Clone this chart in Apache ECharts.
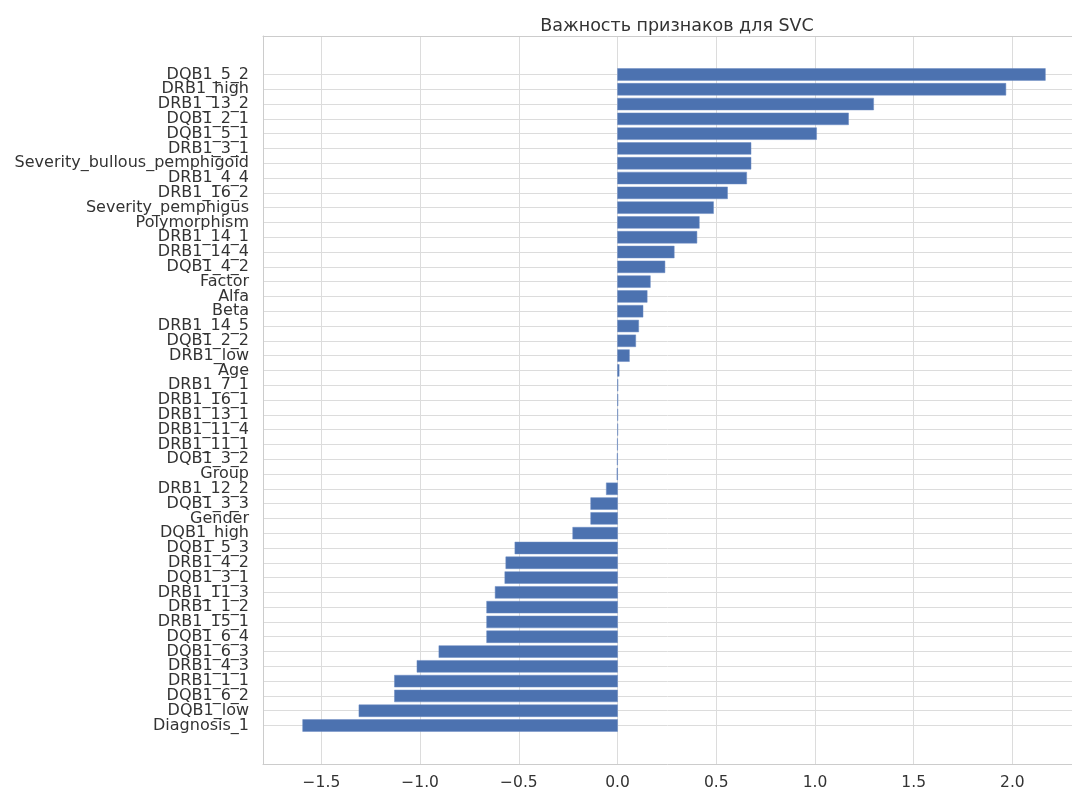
<!DOCTYPE html>
<html>
<head>
<meta charset="utf-8">
<title>Важность признаков для SVC</title>
<script src="https://cdn.jsdelivr.net/npm/echarts@6/dist/echarts.min.js"></script>
<style>
  html, body { margin: 0; padding: 0; background: #fff; }
  #chart { width: 1072px; height: 792px; }
</style>
</head>
<body>
<div id="chart"></div>
<script>
// признаки сверху вниз, как на картинке
const features = [
  'DQB1_5_2', 'DRB1_high', 'DRB1_13_2', 'DQB1_2_1', 'DQB1_5_1', 'DRB1_3_1',
  'Severity_bullous_pemphigoid', 'DRB1_4_4', 'DRB1_16_2', 'Severity_pemphigus',
  'Polymorphism', 'DRB1_14_1', 'DRB1_14_4', 'DQB1_4_2', 'Factor', 'Alfa', 'Beta',
  'DRB1_14_5', 'DQB1_2_2', 'DRB1_low', 'Age', 'DRB1_7_1', 'DRB1_16_1', 'DRB1_13_1',
  'DRB1_11_4', 'DRB1_11_1', 'DQB1_3_2', 'Group', 'DRB1_12_2', 'DQB1_3_3', 'Gender',
  'DQB1_high', 'DQB1_5_3', 'DRB1_4_2', 'DQB1_3_1', 'DRB1_11_3', 'DRB1_1_2',
  'DRB1_15_1', 'DQB1_6_4', 'DQB1_6_3', 'DRB1_4_3', 'DRB1_1_1', 'DQB1_6_2',
  'DQB1_low', 'Diagnosis_1'
]

// коэффициенты
const importance = [
  2.167, 1.967, 1.297, 1.170, 1.008, 0.676,
  0.676, 0.654, 0.557, 0.486,
  0.414, 0.402, 0.287, 0.240, 0.166, 0.150, 0.129,
  0.107, 0.092, 0.060, 0.008, 0.002, 0.002, 0.001,
  0.001, -0.001, -0.002, -0.003, -0.057, -0.136, -0.136,
  -0.227, -0.520, -0.566, -0.571, -0.620, -0.663,
  -0.663, -0.663, -0.905, -1.016, -1.130, -1.130,
  -1.310, -1.595
]

const xTicks = [-1.5, -1.0, -0.5, 0.0, 0.5, 1.0, 1.5, 2.0]
const rowIdx = features.map((_, i) => i)
// подписи делим на две оси (чётные / нечётные), чтобы echarts не прятал соседние
const evenRows = rowIdx.filter(i => i % 2 === 0)
const oddRows = rowIdx.filter(i => i % 2 === 1)

const textColor = '#333333'
const gridColor = '#dcdcdc'
const spineColor = '#cccccc'
const font = 'DejaVu Sans'

const chart = echarts.init(document.getElementById('chart'))

// правая рамка на исходной картинке обрезана, поэтому рамку рисуем осями
const xRange = { min: -1.796, max: 2.302 }
const yRange = { min: -2.6, max: 46.6 }

const rowLabel = rows => ({
  customValues: rows,
  showMinLabel: true,
  showMaxLabel: true,
  hideOverlap: false,
  margin: 14,
  color: textColor,
  fontFamily: font,
  fontSize: 16,
  formatter: v => features[v]
})

chart.setOption({
  animation: false,
  title: {
    text: 'Важность признаков для SVC',
    left: 672,
    textAlign: 'center',
    top: 12,
    textStyle: { fontFamily: font, fontSize: 17.5, fontWeight: 'normal', color: textColor }
  },
  grid: {
    left: 263,
    right: 0,
    top: 36,
    bottom: 28
  },
  xAxis: [{
    type: 'value',
    ...xRange,
    axisLine: { show: true, onZero: false, lineStyle: { color: spineColor } },
    axisTick: { show: false, customValues: xTicks },
    axisLabel: {
      customValues: xTicks,
      margin: 11,
      color: textColor,
      fontFamily: font,
      fontSize: 15.5,
      formatter: v => (v < 0 ? '\u2212' : '') + Math.abs(v).toFixed(1)
    },
    splitLine: { show: true, lineStyle: { color: gridColor, width: 1 } }
  }, {
    type: 'value',
    position: 'top',
    ...xRange,
    axisLine: { show: true, onZero: false, lineStyle: { color: spineColor } },
    axisTick: { show: false },
    axisLabel: { show: false },
    splitLine: { show: false }
  }],
  yAxis: [{
    type: 'value',
    position: 'left',
    inverse: true,
    ...yRange,
    axisLine: { show: true, onZero: false, lineStyle: { color: spineColor } },
    axisTick: { show: false, customValues: rowIdx },
    axisLabel: rowLabel(evenRows),
    splitLine: { show: true, lineStyle: { color: gridColor, width: 1 } }
  }, {
    type: 'value',
    position: 'left',
    offset: 0,
    inverse: true,
    ...yRange,
    axisLine: { show: false },
    axisTick: { show: false },
    axisLabel: rowLabel(oddRows),
    splitLine: { show: false }
  }],
  series: [{
    type: 'custom',
    xAxisIndex: 0,
    yAxisIndex: 0,
    data: importance.map((v, i) => [v, i]),
    encode: { x: 0, y: 1 },
    renderItem: (params, api) => {
      const v = api.value(0)
      const row = api.value(1)
      const a = api.coord([0, row])
      const b = api.coord([v, row])
      const h = api.size([0, 0.8])[1]
      return {
        type: 'rect',
        shape: {
          x: Math.min(a[0], b[0]),
          y: a[1] - h / 2,
          width: Math.abs(b[0] - a[0]),
          height: h
        },
        style: { fill: '#4c72b0', stroke: '#6a8ac2', lineWidth: 0.5 }
      }
    }
  }]
})
</script>
</body>
</html>
